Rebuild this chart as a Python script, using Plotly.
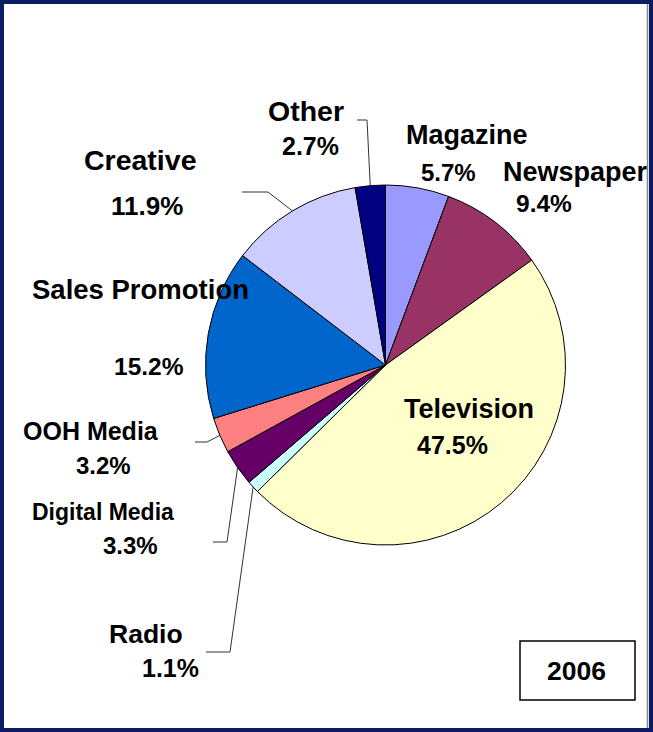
import math
import plotly.graph_objects as go

# Advertising spend share, 2006 (percent), clockwise from 12 o'clock
categories = ["Magazine", "Newspaper", "Television", "Radio", "Digital Media",
              "OOH Media", "Sales Promotion", "Creative", "Other"]
shares = [5.7, 9.4, 47.5, 1.1, 3.3, 3.2, 15.2, 11.9, 2.7]
slice_colors = ["#9999FF", "#993366", "#FFFFCC", "#CCFFFF", "#660066",
                "#FF8080", "#0066CC", "#CCCCFF", "#000080"]
year_label = "2006"

# Canvas and pie geometry (pixels)
W, H = 653, 732
CX, CY, R = 385.5, 365.0, 180.0
FONT = "Liberation Sans"


def fx(x):
    return x / W


def fy(y):
    return 1 - y / H


# Label layout: name/value centres, font sizes, elbow points of leader line
label_layout = {
    "Magazine":        dict(name=(467, 135), value=(448, 172), nsize=27, vsize=24, elbow=None),
    "Newspaper":       dict(name=(575, 172), value=(544, 204), nsize=27, vsize=24.5, elbow=None),
    "Television":      dict(name=(469, 409), value=(452, 445), nsize=27, vsize=25, elbow=None),
    "Radio":           dict(name=(146, 634), value=(170, 668), nsize=26.5, vsize=25,
                            elbow=[(206, 652), (230, 652)]),
    "Digital Media":   dict(name=(103, 512), value=(130, 545), nsize=23, vsize=24,
                            elbow=[(213, 542), (227, 542)]),
    "OOH Media":       dict(name=(91, 431), value=(103, 465), nsize=25, vsize=24,
                            elbow=[(195, 442), (207, 442)]),
    "Sales Promotion": dict(name=(140, 289), value=(149, 367), nsize=27.5, vsize=24.5, elbow=None),
    "Creative":        dict(name=(140, 160), value=(147, 206), nsize=28.5, vsize=26,
                            elbow=[(242, 192), (268, 192)]),
    "Other":           dict(name=(306, 111), value=(310, 146), nsize=28.5, vsize=25,
                            elbow=[(357, 120), (367, 120)]),
}

fig = go.Figure()
fig.add_trace(go.Pie(
    labels=categories,
    values=shares,
    sort=False,
    direction="clockwise",
    rotation=0,
    marker=dict(colors=slice_colors, line=dict(color="black", width=1)),
    textinfo="none",
    hoverinfo="label+percent",
    showlegend=False,
    domain=dict(x=[fx(CX - R), fx(CX + R)], y=[fy(CY + R), fy(CY - R)]),
))

annotations = []
shapes = []
cum = 0.0
total = sum(shares)
for cat, val in zip(categories, shares):
    mid = (cum + val / 2) / total
    cum += val
    lay = label_layout[cat]
    for text, (x, y), size in ((cat, lay["name"], lay["nsize"]),
                               (f"{val:.1f}%", lay["value"], lay["vsize"])):
        annotations.append(dict(
            text=text, x=fx(x), y=fy(y), xref="paper", yref="paper",
            xanchor="center", yanchor="middle", showarrow=False,
            font=dict(family=FONT, size=size, color="black", weight="bold"),
        ))
    if lay["elbow"]:
        # leader line runs from the elbow to the slice's mid-angle on the rim
        ang = 2 * math.pi * mid
        ex = CX + R * math.sin(ang)
        ey = CY - R * math.cos(ang)
        pts = lay["elbow"] + [(ex, ey)]
        path = "M " + " L ".join(f"{fx(px)},{fy(py)}" for px, py in pts)
        shapes.append(dict(type="path", path=path, xref="paper", yref="paper",
                           line=dict(color="#333333", width=1)))

# Year box
shapes.append(dict(type="rect", xref="paper", yref="paper",
                   x0=fx(520), x1=fx(635), y0=fy(700), y1=fy(641),
                   line=dict(color="black", width=1.5), fillcolor="white"))
annotations.append(dict(
    text=year_label, x=fx(576), y=fy(671), xref="paper", yref="paper",
    xanchor="center", yanchor="middle", showarrow=False,
    font=dict(family=FONT, size=26.5, color="black", weight="bold"),
))

# Outer frame
shapes.append(dict(type="line", xref="paper", yref="paper",
                   x0=fx(647.5), x1=fx(647.5), y0=0, y1=1,
                   line=dict(color="#888888", width=1.5)))
shapes.append(dict(type="rect", xref="paper", yref="paper",
                   x0=0, x1=1, y0=0, y1=1,
                   line=dict(color="#0d1b63", width=8)))

fig.update_layout(
    width=W, height=H,
    margin=dict(l=0, r=0, t=0, b=0),
    paper_bgcolor="white",
    plot_bgcolor="white",
    annotations=annotations,
    shapes=shapes,
)

fig.write_html("out.html")
